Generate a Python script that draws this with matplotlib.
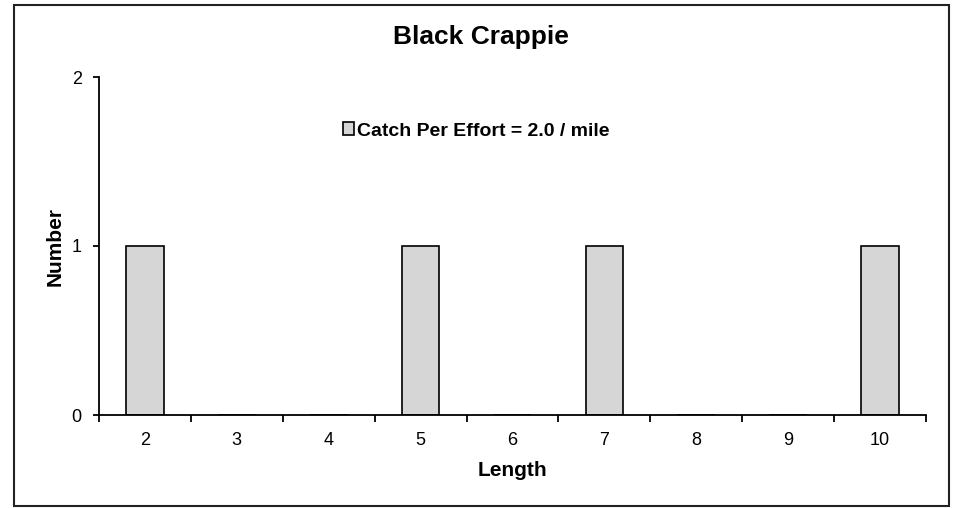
import matplotlib.pyplot as plt
from matplotlib.patches import Rectangle
import numpy as np

plt.rcParams['font.family'] = ['Liberation Sans', 'DejaVu Sans']

lengths = ['2', '3', '4', '5', '6', '7', '8', '9', '10']
counts = [1, 0, 0, 1, 0, 1, 0, 0, 1]
y_ticks = [0, 1, 2]
legend_label = 'Catch Per Effort = 2.0 / mile'

W, H = 959, 508
fig = plt.figure(figsize=(W / 100, H / 100), dpi=100)
ax = fig.add_axes([99 / W, 1 - 415 / H, 827 / W, 338 / H])

x = np.arange(len(lengths))
ax.bar(x, counts, width=0.41, color='#d6d6d6', edgecolor='black', linewidth=1.2,
       label=legend_label, zorder=2)

ax.set_xlim(-0.5, len(lengths) - 0.5)
ax.set_ylim(0, 2)
ax.set_xticks(x)
ax.set_xticklabels(lengths)
ax.set_xticks(np.arange(-0.5, len(lengths)), minor=True)
ax.tick_params(axis='x', which='major', length=0, pad=12.5, labelsize=13)
ax.tick_params(axis='x', which='minor', length=5, width=1.3, direction='out')
ax.set_yticks(y_ticks)
ax.tick_params(axis='y', length=4.5, width=1.3, direction='out', pad=8, labelsize=13)

for s in ['top', 'right']:
    ax.spines[s].set_visible(False)
for s in ['left', 'bottom']:
    ax.spines[s].set_linewidth(1.3)
    ax.spines[s].set_zorder(3)

fig.text(481 / W, 1 - 37 / H, 'Black Crappie', fontsize=19, fontweight='bold',
         ha='center', va='center')
fig.text(512 / W, 1 - 470 / H, 'Length', fontsize=15, fontweight='bold',
         ha='center', va='center')
fig.text(55 / W, 1 - 246 / H, 'Number', fontsize=15, fontweight='bold',
         ha='center', va='center', rotation=90)

leg = fig.legend(loc='center left', bbox_to_anchor=(329 / W, 1 - 131 / H),
                 frameon=False, handlelength=0.6, handleheight=0.6,
                 handletextpad=0.12, borderpad=0.2,
                 prop={'weight': 'bold', 'size': 14})

fig.patches.append(Rectangle((14 / W, 2 / H), 935 / W, 501 / H,
                             transform=fig.transFigure, fill=False,
                             edgecolor='#222222', linewidth=1.5))

fig.savefig('out.png', dpi=100)
